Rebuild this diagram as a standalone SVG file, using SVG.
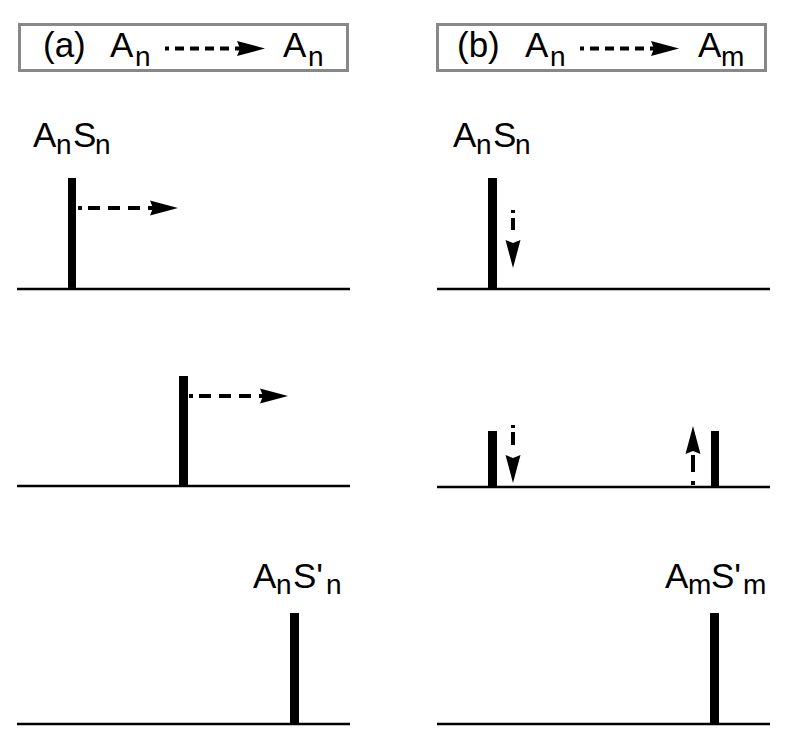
<svg xmlns="http://www.w3.org/2000/svg" width="800" height="747" viewBox="0 0 800 747">
<style>
  text { font-family: "Liberation Sans", Arial, sans-serif; fill: #000; }
  .main { font-size: 35px; }
  .sub { font-size: 28px; }
  .box { fill: #fff; stroke: #888; stroke-width: 3; }
  .base { stroke: #000; stroke-width: 2.5; fill: none; }
  .bar { fill: #000; }
  .dash { stroke: #000; stroke-width: 4; fill: none; marker-end: url(#head); }
</style>
<defs>
  <marker id="head" markerUnits="userSpaceOnUse" markerWidth="30" markerHeight="18" viewBox="0 0 30 18" refX="8" refY="9" orient="auto">
    <path d="M1,1.5 L29,9 L1,16.5 L4,9 Z" fill="#000"/>
  </marker>
</defs>
<rect width="800" height="747" fill="#fff"/>

<g id="title-a">
  <rect class="box" x="19.5" y="24.5" width="328" height="46"/>
  <text class="main" x="43" y="57">(a)</text>
  <text class="main" x="110" y="57">A</text><text class="sub" x="135" y="66">n</text>
  <text class="main" x="283" y="57">A</text><text class="sub" x="308" y="66">n</text>
</g>
<g id="title-b">
  <rect class="box" x="437.5" y="24.5" width="328" height="46"/>
  <text class="main" x="457" y="57">(b)</text>
  <text class="main" x="525" y="57">A</text><text class="sub" x="550" y="66">n</text>
  <text class="main" x="698" y="57">A</text><text class="sub" x="721" y="66">m</text>
</g>

<g id="label-a1">
  <text class="main" x="33" y="147">A</text><text class="sub" x="56" y="154">n</text>
  <text class="main" x="73" y="147">S</text><text class="sub" x="95" y="154">n</text>
</g>
<g id="label-b1">
  <text class="main" x="453" y="147">A</text><text class="sub" x="476" y="154">n</text>
  <text class="main" x="493" y="147">S</text><text class="sub" x="515" y="154">n</text>
</g>
<g id="label-a3">
  <text class="main" x="253" y="588">A</text><text class="sub" x="276" y="594">n</text>
  <text class="main" x="293" y="588">S'</text><text class="sub" x="326" y="594">n</text>
</g>
<g id="label-b3">
  <text class="main" x="665" y="588">A</text><text class="sub" x="688" y="594">m</text>
  <text class="main" x="711" y="588">S'</text><text class="sub" x="743" y="594">m</text>
</g>

<g id="baselines">
  <line class="base" x1="17" y1="289" x2="350" y2="289"/>
  <line class="base" x1="437" y1="289" x2="770" y2="289"/>
  <line class="base" x1="17" y1="486" x2="350" y2="486"/>
  <line class="base" x1="437" y1="487" x2="770" y2="487"/>
  <line class="base" x1="17" y1="724" x2="350" y2="724"/>
  <line class="base" x1="437" y1="724" x2="770" y2="724"/>
</g>

<g id="bar-a1"><rect class="bar" x="68" y="178" width="8" height="111"/></g>
<g id="bar-b1"><rect class="bar" x="488" y="178" width="9" height="111"/></g>
<g id="bar-a2"><rect class="bar" x="179" y="376" width="9" height="110"/></g>
<g id="bar-b2-left"><rect class="bar" x="488" y="431" width="9" height="56"/></g>
<g id="bar-b2-right"><rect class="bar" x="711" y="431" width="8" height="56"/></g>
<g id="bar-a3"><rect class="bar" x="290" y="613" width="9" height="111"/></g>
<g id="bar-b3"><rect class="bar" x="710" y="613" width="9" height="111"/></g>

<g id="connectors">
  <path class="dash" d="M165,48.5 H244" stroke-dasharray="4 6 9 6 9 6 9 6 9 6 40"/>
  <path class="dash" d="M580,48.5 H658" stroke-dasharray="4 6 9 6 9 6 9 6 9 6 40"/>
  <path class="dash" d="M78,208 H157" stroke-dasharray="4 6 12 8 12 8 12 8 40"/>
  <path class="dash" d="M189,396 H267" stroke-dasharray="4 6 12 8 12 8 12 8 40"/>
  <path class="dash" d="M513,210 V247" stroke-width="3.5" stroke-dasharray="3 5 12 40"/>
  <path class="dash" d="M513,425 V462" stroke-width="3.5" stroke-dasharray="3 4 13 40"/>
  <path class="dash" d="M693,485 V447" stroke-width="3.5" stroke-dasharray="4 9 17 40"/>
</g>
</svg>
